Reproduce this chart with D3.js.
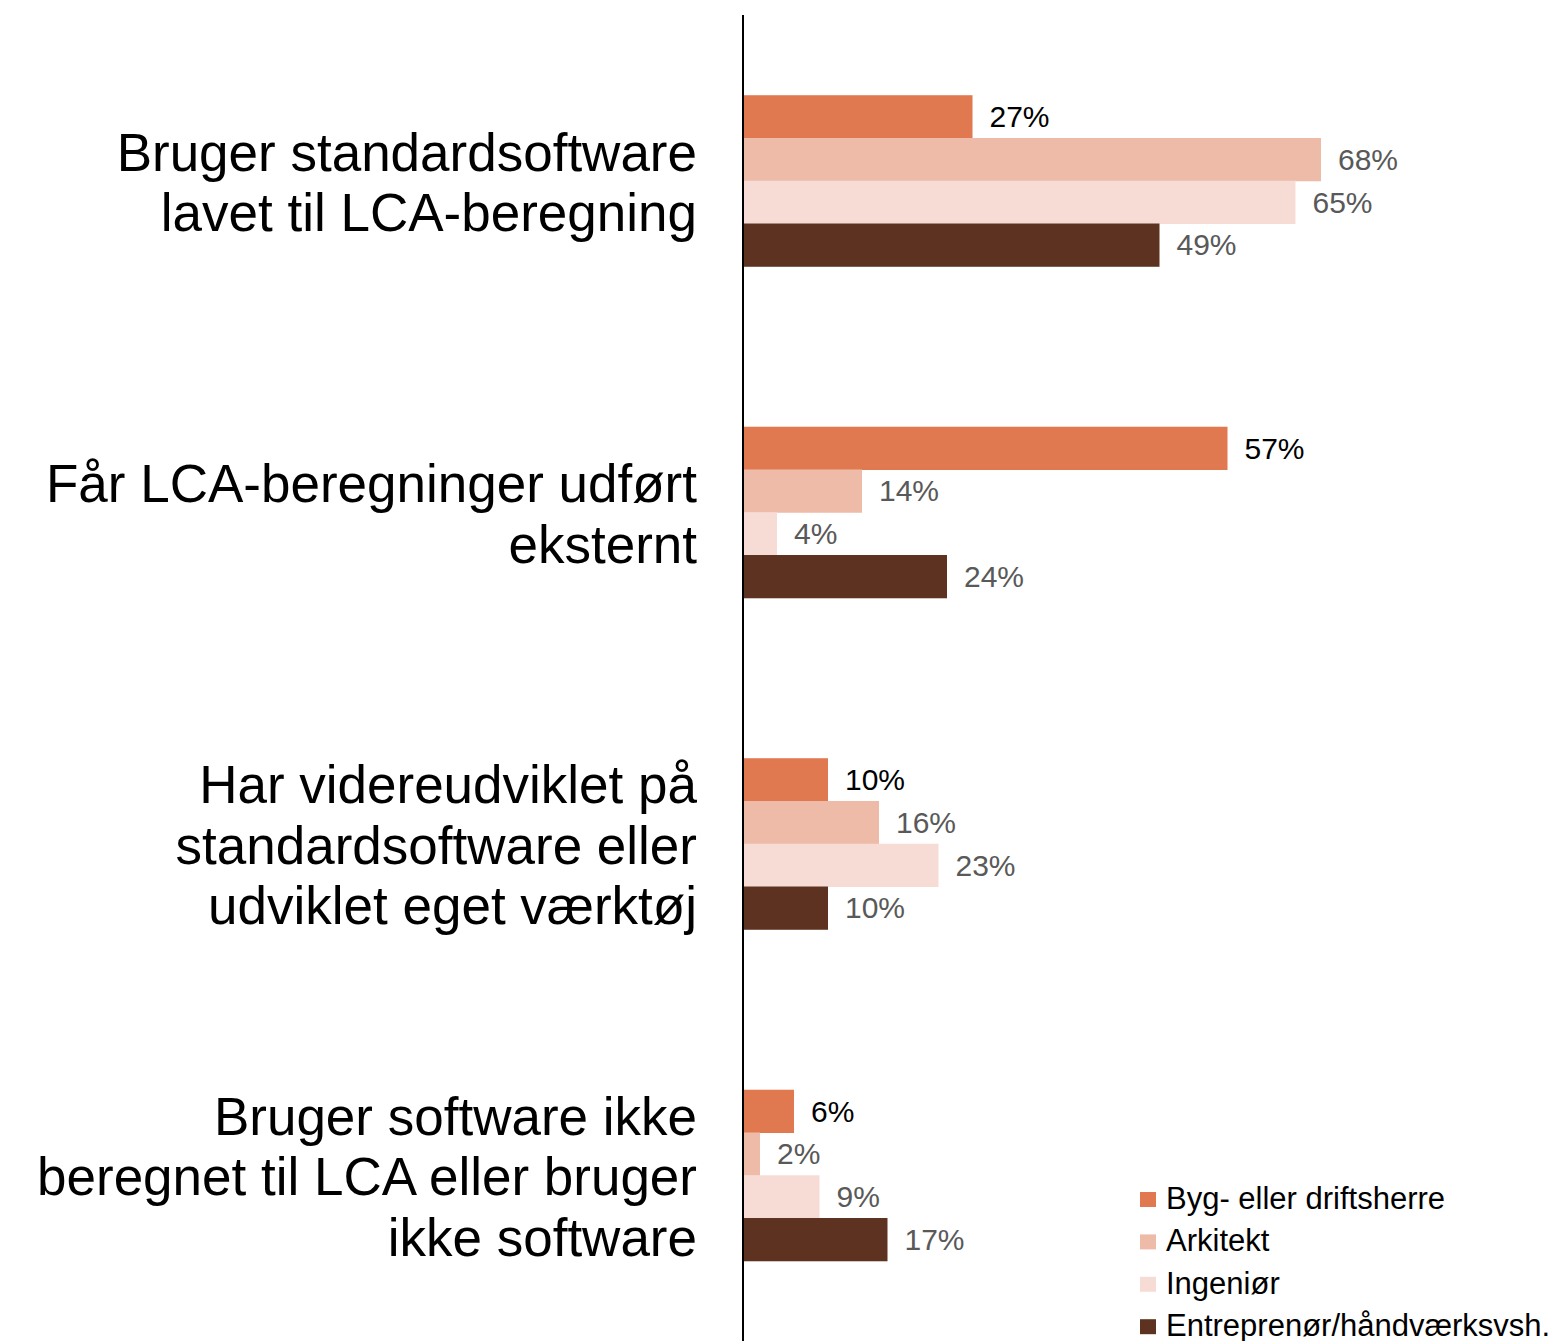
<!DOCTYPE html>
<html>
<head>
<meta charset="utf-8">
<script src="https://cdn.jsdelivr.net/npm/d3@7"></script>
<style>
  body { margin: 0; background: #fff; }
  text { font-family: "Liberation Sans", Arial, sans-serif; }
</style>
</head>
<body>
<script>
const categories = [
  ["Bruger standardsoftware", "lavet til LCA-beregning"],
  ["Får LCA-beregninger udført", "eksternt"],
  ["Har videreudviklet på", "standardsoftware eller", "udviklet eget værktøj"],
  ["Bruger software ikke", "beregnet til LCA eller bruger", "ikke software"]
];
const seriesNames = ["Byg- eller driftsherre", "Arkitekt", "Ingeniør", "Entreprenør/håndværksvsh."];
const byg = [27, 57, 10, 6];
const arkitekt = [68, 14, 16, 2];
const ingenior = [65, 4, 23, 9];
const entreprenor = [49, 24, 10, 17];
const colors = ["#E07850", "#EDBBA8", "#F7DCD6", "#5E3220"];
const labelColors = ["#000000", "#595959", "#595959", "#595959"];

const values = [byg, arkitekt, ingenior, entreprenor];
const width = 1565, height = 1341;
const axisX = 743;

const svg = d3.select("body").append("svg")
  .attr("width", width)
  .attr("height", height);

const x = d3.scaleLinear()
  .domain([0, 100])
  .range([axisX, axisX + 850]);

const y0 = d3.scaleBand()
  .domain(d3.range(categories.length))
  .range([15, 1341])
  .paddingInner(0.484)
  .paddingOuter(0.242);

const y1 = d3.scaleBand()
  .domain(d3.range(seriesNames.length))
  .range([0, y0.bandwidth()]);

const groups = svg.selectAll("g.cat")
  .data(categories)
  .enter()
  .append("g")
  .attr("class", "cat")
  .attr("transform", (d, i) => "translate(0," + y0(i) + ")");

groups.each(function(cat, ci) {
  const g = d3.select(this);
  values.forEach((vals, si) => {
    g.append("rect")
      .attr("x", x(0))
      .attr("y", y1(si))
      .attr("width", x(vals[ci]) - x(0))
      .attr("height", y1.bandwidth() + 0.5)
      .attr("fill", colors[si]);
    g.append("text")
      .attr("x", x(vals[ci]) + 17)
      .attr("y", y1(si) + y1.bandwidth() / 2)
      .attr("dy", "0.35em")
      .text(vals[ci] + "%")
      .style("fill", labelColors[si])
      .style("font-size", "30px");
  });

  const lineH = 60.5;
  const mid = y0.bandwidth() / 2;
  const txt = g.append("text")
    .attr("text-anchor", "end")
    .style("font-size", "53px")
    .style("fill", "#000");
  cat.forEach((line, li) => {
    txt.append("tspan")
      .attr("x", 697)
      .attr("y", mid + (li - (cat.length - 1) / 2) * lineH)
      .attr("dy", "0.38em")
      .text(line);
  });
});

svg.append("line")
  .attr("x1", axisX)
  .attr("x2", axisX)
  .attr("y1", 15)
  .attr("y2", 1341)
  .attr("stroke", "#000")
  .attr("stroke-width", 2);

const legend = svg.append("g")
  .attr("transform", "translate(1140,1199)");

seriesNames.forEach((name, i) => {
  legend.append("rect")
    .attr("x", 0)
    .attr("y", i * 42.4 - 7)
    .attr("width", 16)
    .attr("height", 15)
    .attr("fill", colors[i]);
  legend.append("text")
    .attr("x", 26)
    .attr("y", i * 42.4)
    .attr("dy", "0.32em")
    .text(name)
    .style("font-size", "31px")
    .style("fill", "#000");
});
</script>
</body>
</html>
